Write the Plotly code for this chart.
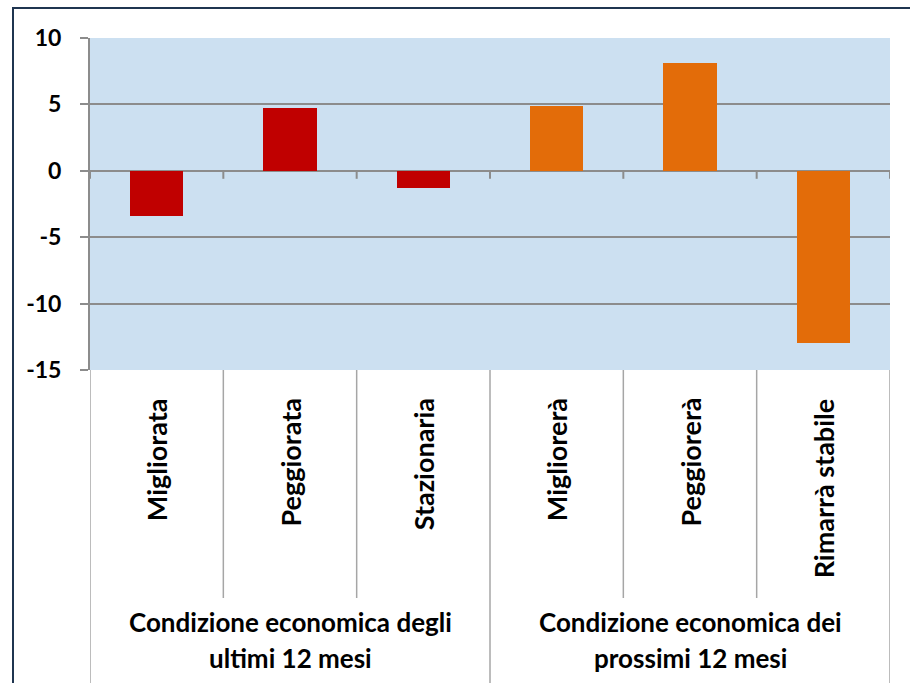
import plotly.graph_objects as go

# Survey balance (percentage points) by answer category
categories = ["Migliorata", "Peggiorata", "Stazionaria",
              "Migliorerà", "Peggiorerà", "Rimarrà stabile"]
past_values = [-3.4, 4.7, -1.3]      # economic condition, last 12 months
future_values = [4.9, 8.1, -13.0]    # economic condition, next 12 months
group_labels = [["Condizione economica degli", "ultimi 12 mesi"],
                ["Condizione economica dei", "prossimi 12 mesi"]]
tick_vals = [10, 5, 0, -5, -10, -15]
tick_labels = ["10", "5", "0", "-5", "-10", "-15"]

W, H = 910, 683
L, R, T, B = 90, 890, 38, 370      # plot area in pixels
FONT = "Lato"
GRID = "#8c8c8c"
TABLE = "#a6a6a6"


def px_x(px):
    return (px - L) / (R - L)


def px_y(py):
    return (B - py) / (B - T)


fig = go.Figure()
fig.add_trace(go.Bar(x=categories[:3], y=past_values, width=0.4,
                     marker=dict(color="#c00000", line=dict(width=0))))
fig.add_trace(go.Bar(x=categories[3:], y=future_values, width=0.4,
                     marker=dict(color="#e36c09", line=dict(width=0))))

shapes = []
# tick marks on the zero line at category boundaries
for k in range(len(categories) + 1):
    shapes.append(dict(type="line", xref="x", yref="y", x0=k - 0.5, x1=k - 0.5,
                       ysizemode="pixel", yanchor=0, y0=0, y1=-8,
                       line=dict(color=GRID, width=2)))
# category table below the plot
for k in range(len(categories) + 1):
    outer = k % 3 == 0
    shapes.append(dict(type="line", xref="x", yref="paper", x0=k - 0.5, x1=k - 0.5,
                       y0=0, y1=px_y(700 if outer else 598),
                       line=dict(color=TABLE, width=1.5), layer="below"))
# outer frame
shapes.append(dict(type="rect", xref="paper", yref="paper",
                   x0=px_x(13), x1=px_x(960), y0=px_y(8), y1=px_y(740),
                   line=dict(color="#1f3550", width=2)))

annotations = []
for i, c in enumerate(categories):
    annotations.append(dict(x=i, xref="x", y=px_y(396), yref="paper",
                            text=f"<b>{c}</b>", textangle=-90, showarrow=False,
                            xanchor="center", yanchor="top",
                            font=dict(family=FONT, size=27, color="black")))
for g, lines in enumerate(group_labels):
    for j, line in enumerate(lines):
        annotations.append(dict(x=1 + 3 * g, xref="x", y=px_y(622 + 36 * j), yref="paper",
                                text=f"<b>{line}</b>", showarrow=False,
                                xanchor="center", yanchor="middle",
                                font=dict(family=FONT, size=26, color="black")))

fig.update_layout(
    width=W, height=H,
    margin=dict(l=L, r=W - R, t=T, b=H - B, pad=0),
    paper_bgcolor="white",
    plot_bgcolor="#cce0f1",
    barmode="overlay",
    showlegend=False,
    bargap=0,
    shapes=shapes,
    annotations=annotations,
    font=dict(family=FONT, color="black"),
)
fig.update_xaxes(type="category", categoryorder="array", categoryarray=categories,
                 range=[-0.5, len(categories) - 0.5],
                 showticklabels=False, showgrid=False, zeroline=False,
                 showline=False, ticks="")
fig.update_yaxes(range=[-15, 10], tickvals=tick_vals, ticktext=tick_labels,
                 showgrid=True, gridcolor=GRID, gridwidth=2,
                 zeroline=True, zerolinecolor=GRID, zerolinewidth=2,
                 showline=True, linecolor=GRID, linewidth=2,
                 ticks="outside", ticklen=8, tickcolor=GRID, tickwidth=2,
                 ticklabelstandoff=14,
                 tickfont=dict(family=FONT, size=23, color="black", weight="bold"))

fig.write_html("out.html")
